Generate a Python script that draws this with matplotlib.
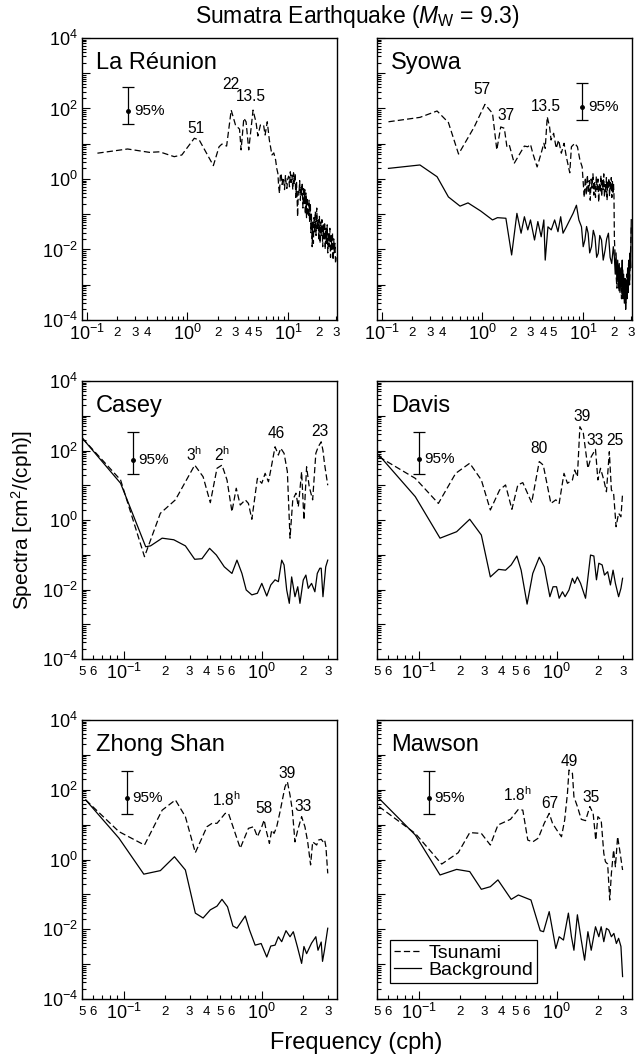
import matplotlib
matplotlib.use("Agg")
import matplotlib.pyplot as plt
from matplotlib.ticker import FixedLocator, FixedFormatter, LogLocator, NullFormatter
from matplotlib.lines import Line2D

plt.rcParams['font.family'] = ['Liberation Sans', 'DejaVu Sans']
plt.rcParams['mathtext.fontset'] = 'custom'
plt.rcParams['mathtext.rm'] = 'Liberation Sans'
plt.rcParams['mathtext.it'] = 'Liberation Sans:italic'

# ---- spectra (frequency in cph, spectra in cm^2/cph) ----
reunion_f = [0.128, 0.255, 0.42, 0.53, 0.74, 0.88, 1.17, 1.31, 1.81, 2.06,
             2.2, 2.45, 2.72, 3.0, 3.29, 3.41, 3.63, 3.82, 4.06, 4.48,
             4.8, 5.0, 5.3, 5.7, 5.9, 6.2, 6.5, 6.9, 7.2, 7.5,
             7.7, 7.9, 8.05, 8.2, 8.35, 8.5, 8.7, 8.85, 9.0, 9.2,
             9.4, 9.55, 9.7, 9.9, 10.1, 10.3, 10.5, 10.7, 10.9, 11.1,
             11.3, 11.5, 11.7, 11.9, 12.1, 12.3, 12.4, 12.6, 12.8, 13.0,
             13.2, 13.4, 13.6, 13.8, 14.0, 14.2, 14.4, 14.6, 14.8, 15.0,
             15.2, 15.4, 15.6, 15.9, 16.1, 16.3, 16.6, 16.8, 17.0, 17.3,
             17.5, 17.8, 18.0, 18.3, 18.6, 18.9, 19.2, 19.5, 19.8, 20.1,
             20.4, 20.7, 21.0, 21.3, 21.6, 22.0, 22.3, 22.6, 23.0, 23.3,
             23.7, 24.0, 24.4, 24.7, 25.1, 25.5, 25.9, 26.3, 26.7, 27.1,
             27.5, 27.9, 28.3, 28.7, 29.1, 29.5, 29.9]
reunion_tsu = [5.4, 7.1, 5.7, 5.9, 4.3, 4.8, 14.3, 12.8, 2.4, 8.2,
               9.8, 8.6, 90, 34, 26, 6.7, 53, 42, 6.7, 90,
               40, 16.6, 34, 34, 17.7, 42, 12.8, 4.8, 5.5, 3.5,
               2.0, 1.45, 0.6, 0.39, 1.2, 1.45, 0.7, 1.1, 0.94, 0.5,
               1.3, 0.7, 0.54, 1.0, 1.2, 0.6, 1.6, 0.8, 1.3, 0.5,
               1.5, 0.7, 1.45, 0.3, 0.8, 0.2, 0.085, 0.45, 0.39, 0.9,
               0.25, 0.6, 0.35, 0.8, 0.15, 0.6, 0.2, 0.5, 0.1, 0.4,
               0.08, 0.3, 0.12, 0.085, 0.25, 0.06, 0.2, 0.03, 0.1, 0.012,
               0.06, 0.015, 0.08, 0.03, 0.12, 0.025, 0.15, 0.04, 0.069, 0.02,
               0.09, 0.015, 0.06, 0.025, 0.07, 0.012, 0.05, 0.02, 0.06, 0.01,
               0.04, 0.015, 0.05, 0.008, 0.03, 0.012, 0.04, 0.006, 0.025, 0.01,
               0.03, 0.005, 0.02, 0.008, 0.015, 0.004, 0.006]

syowa_tsu_f = [0.117, 0.24, 0.355, 0.46, 0.58, 0.83, 1.06, 1.26, 1.39, 1.52,
               1.65, 1.75, 1.85, 2.07, 2.42, 2.61, 2.82, 3.0, 3.16, 3.49,
               3.83, 4.07, 4.2, 4.4, 4.64, 4.8, 5.09, 5.4, 5.7, 6.07,
               6.46, 6.8, 7.36, 7.64, 8.26, 8.77, 9.27, 9.77, 10.0, 10.25,
               10.5, 10.75, 11.0, 11.25, 11.5, 11.75, 12.0, 12.25, 12.5, 12.75,
               13.0, 13.25, 13.5, 13.75, 14.0, 14.25, 14.5, 14.75, 15.0, 15.25,
               15.5, 15.75, 16.0, 16.25, 16.5, 16.75, 17.0, 17.25, 17.5, 17.75,
               18.0, 18.25, 18.5, 18.75, 19.0, 19.25, 19.5, 19.75, 20.0, 20.2,
               20.4, 21.0, 21.6, 22.2, 22.8, 23.4, 24.0, 24.6, 25.2, 25.8,
               26.4, 27.0, 27.6, 28.2, 28.8, 29.4, 30.0]
syowa_tsu = [42, 56, 85, 40, 5.1, 30, 131, 73, 6.7, 30,
             27.5, 8.2, 9.2, 2.8, 6.0, 8.6, 8.2, 9.6, 5.4, 2.2,
             5.4, 10.3, 7.4, 58, 30, 12.8, 19.8, 7.4, 12.8, 5.4,
             10.3, 4.3, 1.5, 8.2, 10.3, 8.2, 3.5, 2.2, 0.8, 0.3,
             1.1, 0.35, 1.3, 0.4, 0.9, 0.25, 1.0, 0.55, 1.4, 0.35,
             0.85, 0.3, 1.2, 0.5, 1.0, 0.22, 0.8, 0.42, 1.25, 0.32,
             0.9, 0.5, 1.4, 0.3, 0.7, 0.42, 1.1, 0.25, 0.85, 0.55,
             1.05, 0.32, 0.8, 0.5, 1.1, 0.3, 0.85, 0.42, 0.7, 0.35,
             0.02, 0.003, 0.0008, 0.004, 0.0006, 0.002, 0.0004, 0.003, 0.0005, 0.0015,
             0.0003, 0.002, 0.0006, 0.004, 0.001, 0.006, 0.05]
syowa_bg_f = [0.117, 0.24, 0.355, 0.46, 0.6, 0.72, 0.96, 1.26, 1.41, 1.71,
              1.95, 2.2, 2.42, 2.61, 2.82, 3.0, 3.29, 3.55, 3.83, 4.07,
              4.2, 4.47, 4.82, 5.21, 5.62, 5.98, 6.31, 6.81, 7.36, 7.94,
              8.57, 9.06, 9.62, 10.0, 10.4, 10.8, 11.2, 11.6, 12.1, 12.6,
              13.1, 13.6, 14.1, 14.6, 15.2, 15.8, 16.5, 17.1, 17.8, 18.5,
              19.2, 19.9, 20.4, 20.8, 21.2, 21.6, 22.0, 22.4, 22.8, 23.2,
              23.6, 24.0, 24.4, 24.8, 25.2, 25.6, 26.0, 26.4, 26.8, 27.2,
              27.6, 28.0, 28.4, 28.8, 29.2, 29.6, 30.0]
syowa_bg = [2.0, 2.5, 1.16, 0.31, 0.17, 0.21, 0.124, 0.069, 0.08, 0.077,
            0.007, 0.106, 0.029, 0.085, 0.036, 0.069, 0.0186, 0.062, 0.023, 0.069,
            0.005, 0.044, 0.036, 0.069, 0.032, 0.085, 0.029, 0.044, 0.069, 0.106,
            0.18, 0.069, 0.044, 0.012, 0.0186, 0.045, 0.029, 0.008, 0.012, 0.035,
            0.023, 0.006, 0.0078, 0.025, 0.0186, 0.005, 0.0097, 0.02, 0.029, 0.006,
            0.004, 0.012, 0.006, 0.002, 0.008, 0.0012, 0.005, 0.0008, 0.004, 0.0006,
            0.003, 0.0009, 0.005, 0.0004, 0.002, 0.0003, 0.0015, 0.0002, 0.001, 0.0004,
            0.003, 0.0006, 0.005, 0.001, 0.008, 0.003, 0.07]

casey_tsu_f = [0.0504, 0.0951, 0.1416, 0.1845, 0.237, 0.327, 0.376, 0.424, 0.474, 0.515,
               0.56, 0.608, 0.653, 0.698, 0.759, 0.8, 0.847, 0.929, 1.0, 1.057, 1.117,
               1.161, 1.247, 1.318, 1.371, 1.449, 1.531, 1.6, 1.675, 1.766, 1.837, 1.941,
               2.018, 2.109, 2.203, 2.333, 2.46, 2.56, 2.69, 2.77, 2.84, 3.0]
casey_tsu = [224, 14.2, 0.088, 1.56, 3.8, 38, 17.6, 3.15, 30.8, 38,
             14.2, 1.73, 8.2, 2.7, 3.8, 3.0, 1.05, 15.8, 11.4, 22, 12.6,
             27.5, 128, 74, 116, 83, 24.5, 0.30, 3.8, 5.9, 2.4, 24.5,
             1.0, 34, 9.1, 3.8, 83, 128, 178, 100, 43, 10]
casey_bg_f = [0.0504, 0.0951, 0.1445, 0.1566, 0.19, 0.2307, 0.28, 0.327, 0.369, 0.419,
              0.469, 0.535, 0.608, 0.661, 0.718, 0.771, 0.847, 0.929, 1.0, 1.086, 1.161,
              1.247, 1.318, 1.393, 1.449, 1.514, 1.581, 1.644, 1.738, 1.82, 1.888, 1.995,
              2.084, 2.168, 2.291, 2.421, 2.52, 2.63, 2.69, 2.77, 2.9, 3.0]
casey_bg = [224, 11.4, 0.17, 0.18, 0.30, 0.27, 0.18, 0.074, 0.077, 0.153,
            0.098, 0.045, 0.029, 0.07, 0.029, 0.0097, 0.007, 0.0078, 0.015, 0.0065, 0.0135,
            0.019, 0.0168, 0.07, 0.051, 0.0097, 0.004, 0.023, 0.0062, 0.012, 0.004, 0.0187,
            0.026, 0.0108, 0.015, 0.0086, 0.029, 0.041, 0.041, 0.0062, 0.045, 0.07]

davis_tsu_f = [0.0516, 0.0946, 0.139, 0.1854, 0.2344, 0.2844, 0.3304, 0.3855, 0.4256,
               0.4732, 0.5224, 0.5675, 0.6577, 0.7464, 0.798, 0.906, 0.984, 1.04, 1.127,
               1.194, 1.297, 1.346, 1.409, 1.469, 1.556, 1.679, 1.774, 1.905, 1.982, 2.07,
               2.188, 2.286, 2.399, 2.483, 2.576, 2.685, 2.8, 2.911, 2.992]
davis_tsu = [66, 15.8, 3.0, 22, 43, 14.2, 1.94, 7.3, 10.2,
             2.03, 10.2, 11.9, 3.15, 48, 38, 3.0, 3.8, 3.0, 22,
             11.4, 14.2, 27.5, 17.6, 484, 313, 30.8, 66, 108, 14.2, 30.8,
             14.2, 6.5, 92, 7.3, 5.9, 0.64, 1.56, 1.24, 5.9]
davis_bg_f = [0.0516, 0.0946, 0.1429, 0.1884, 0.2344, 0.2844, 0.3304, 0.3793, 0.4256,
              0.4677, 0.514, 0.552, 0.6095, 0.6699, 0.7464, 0.811, 0.891, 0.9397, 0.9954,
              1.04, 1.099, 1.148, 1.225, 1.297, 1.346, 1.409, 1.486, 1.614, 1.754, 1.854,
              1.936, 2.014, 2.128, 2.213, 2.333, 2.443, 2.553, 2.655, 2.8, 2.911, 2.992]
davis_bg = [74, 4.7, 0.30, 0.46, 1.05, 0.37, 0.023, 0.038, 0.036,
            0.051, 0.092, 0.036, 0.0038, 0.029, 0.085, 0.045, 0.0062, 0.012, 0.012,
            0.0056, 0.0086, 0.0062, 0.0097, 0.021, 0.015, 0.023, 0.015, 0.0056, 0.098, 0.092,
            0.019, 0.057, 0.051, 0.026, 0.0325, 0.0135, 0.036, 0.015, 0.0062, 0.0108, 0.021]

zhong_tsu_f = [0.0532, 0.0925, 0.1416, 0.1901, 0.2371, 0.2799, 0.3304, 0.4009, 0.4365,
               0.4742, 0.5433, 0.5741, 0.6982, 0.7998, 0.871, 0.929, 1.0, 1.04, 1.074,
               1.135, 1.18, 1.227, 1.282, 1.355, 1.472, 1.531, 1.6, 1.663, 1.738, 1.82,
               1.941, 2.051, 2.148, 2.254, 2.333, 2.495, 2.57, 2.69, 2.78, 2.85, 2.91, 3.0]
zhong_tsu = [51, 6.3, 2.6, 26, 51, 16.9, 1.57, 8.7, 10.9,
             10.9, 21, 21, 2.1, 7.8, 8.7, 4.5, 8.7, 13.6, 7.0,
             2.9, 7.0, 5.6, 8.7, 23.5, 122, 170, 70, 26, 3.2, 7.0,
             16.9, 8.7, 3.2, 0.7, 3.2, 2.6, 3.6, 3.8, 3.2, 3.6, 2.3, 0.4]
zhong_bg_f = [0.0532, 0.0925, 0.14, 0.1845, 0.2333, 0.2799, 0.3304, 0.376, 0.424, 0.474,
              0.515, 0.5649, 0.618, 0.661, 0.759, 0.815, 0.895, 0.989, 1.086, 1.161,
              1.247, 1.318, 1.393, 1.496, 1.6, 1.69, 1.807, 1.941, 2.018, 2.109, 2.291,
              2.46, 2.55, 2.69, 2.75, 2.84, 3.0]
zhong_bg = [51, 4.1, 0.38, 0.48, 1.2, 0.5, 0.029, 0.021, 0.036, 0.046,
            0.072, 0.044, 0.0124, 0.0107, 0.024, 0.0095, 0.0035, 0.0039, 0.0016, 0.0033,
            0.0035, 0.0061, 0.0044, 0.0091, 0.0061, 0.0085, 0.0032, 0.00105, 0.0032, 0.002, 0.004,
            0.0061, 0.0025, 0.0043, 0.0012, 0.0025, 0.0107]

mawson_tsu_f = [0.0516, 0.0946, 0.1469, 0.1936, 0.2344, 0.2844, 0.3304, 0.375, 0.4624,
                0.5272, 0.5675, 0.6166, 0.6699, 0.7345, 0.811, 0.881, 0.931, 1.0, 1.081,
                1.14, 1.194, 1.225, 1.297, 1.33, 1.409, 1.503, 1.614, 1.734, 1.832, 1.914,
                1.982, 2.094, 2.188, 2.249, 2.333, 2.415, 2.483, 2.576, 2.655, 2.754, 2.851, 2.992]
mawson_tsu = [33, 5.6, 0.74, 1.57, 5.9, 5.6, 2.6, 9.75, 14.2,
              27.5, 26, 3.6, 3.2, 4.1, 10.9, 21, 10.9, 7.0, 4.5,
              13.6, 79, 368, 296, 63, 33, 14.2, 13.0, 33, 21, 3.6,
              16.9, 13.6, 1.5, 0.86, 0.74, 0.069, 0.40, 1.87, 0.62, 4.5, 1.87, 0.5]
mawson_bg_f = [0.0516, 0.0946, 0.1429, 0.1884, 0.2344, 0.2844, 0.3304, 0.375, 0.4677,
               0.5272, 0.6501, 0.7586, 0.8017, 0.881, 0.984, 1.04, 1.117, 1.213, 1.276,
               1.33, 1.409, 1.503, 1.589, 1.679, 1.774, 1.905, 2.014, 2.094, 2.188, 2.286,
               2.377, 2.483, 2.588, 2.698, 2.8, 2.911, 2.992]
mawson_bg = [57, 5.05, 0.36, 0.52, 0.45, 0.14, 0.166, 0.26, 0.072,
             0.096, 0.069, 0.0091, 0.0085, 0.032, 0.0028, 0.0061, 0.0049, 0.029, 0.0061,
             0.0025, 0.026, 0.0049, 0.0013, 0.0085, 0.0025, 0.0118, 0.0061, 0.0118, 0.0044, 0.0106,
             0.0095, 0.0061, 0.0076, 0.0039, 0.0055, 0.0032, 0.00044]

stations = ['La Réunion', 'Syowa', 'Casey', 'Davis', 'Zhong Shan', 'Mawson']

# 95% confidence bar: frequency, lower, centre, upper
conf_f = [0.26, 9.8, 0.117, 0.1, 0.105, 0.118]
conf_lo = [36, 47, 20.7, 20.5, 20.2, 20.2]
conf_mid = [85, 107, 53, 56, 57, 57]
conf_hi = [400, 537, 334, 334, 345, 345]

# peak period labels (minutes, or hours where marked)
peak_text = [
    ['51', '22', '13.5'],
    ['57', '37', '13.5'],
    ['3$^{\\mathrm{h}}$', '2$^{\\mathrm{h}}$', '46', '23'],
    ['80', '39', '33', '25'],
    ['1.8$^{\\mathrm{h}}$', '58', '39', '33'],
    ['1.8$^{\\mathrm{h}}$', '67', '49', '35'],
]
peak_f = [
    [1.21, 2.72, 4.26],
    [1.0, 1.71, 4.3],
    [0.321, 0.515, 1.28, 2.63],
    [0.739, 1.53, 1.905, 2.65],
    [0.56, 1.03, 1.53, 2.0],
    [0.52, 0.895, 1.23, 1.77],
]
peak_s = [
    [27, 465, 212],
    [335, 65, 112],
    [74, 74, 313, 348],
    [116, 940, 200, 200],
    [51, 29, 296, 33],
    [71, 41, 637, 61],
]

tsunami = [(reunion_f, reunion_tsu), (syowa_tsu_f, syowa_tsu), (casey_tsu_f, casey_tsu),
           (davis_tsu_f, davis_tsu), (zhong_tsu_f, zhong_tsu), (mawson_tsu_f, mawson_tsu)]
background = [None, (syowa_bg_f, syowa_bg), (casey_bg_f, casey_bg),
              (davis_bg_f, davis_bg), (zhong_bg_f, zhong_bg), (mawson_bg_f, mawson_bg)]

W, H = 635, 1059
fig = plt.figure(figsize=(W / 100, H / 100), dpi=100)

cols = [82, 377]
rows = [(38, 320), (381, 659), (720, 999)]
axes = []
for r, (top, bot) in enumerate(rows):
    for c, left in enumerate(cols):
        ax = fig.add_axes([left / W, 1 - bot / H, 255 / W, (bot - top) / H])
        axes.append(ax)

DASH = (5, 2.5)

for i, ax in enumerate(axes):
    wide = i < 2
    ax.set_xscale('log')
    ax.set_yscale('log')
    ax.set_ylim(1e-4, 1e4)

    f, s = tsunami[i]
    ax.plot(f, s, color='k', lw=0.9, dashes=DASH)
    if background[i] is not None:
        fb, sb = background[i]
        ax.plot(fb, sb, color='k', lw=0.9)

    # frequency axis
    if wide:
        ax.set_xlim(0.09, 30.5)
        major = [0.1, 1, 10]
        major_lab = ['$10^{-1}$', '$10^{0}$', '$10^{1}$']
        minor = [0.2, 0.3, 0.4, 0.5, 0.6, 0.7, 0.8, 0.9,
                 2, 3, 4, 5, 6, 7, 8, 9, 20, 30]
        minor_lab = ['2', '3', '4', '', '', '', '', '',
                     '2', '3', '4', '5', '', '', '', '', '2', '3']
    else:
        ax.set_xlim(0.05, 3.5)
        major = [0.1, 1]
        major_lab = ['$10^{-1}$', '$10^{0}$']
        minor = [0.05, 0.06, 0.07, 0.08, 0.09, 0.2, 0.3, 0.4, 0.5, 0.6, 0.7, 0.8, 0.9, 2, 3]
        minor_lab = ['5', '6', '', '', '', '2', '3', '4', '5', '6', '', '', '', '2', '3']
    ax.xaxis.set_major_locator(FixedLocator(major))
    ax.xaxis.set_major_formatter(FixedFormatter(major_lab))
    ax.xaxis.set_minor_locator(FixedLocator(minor))
    ax.xaxis.set_minor_formatter(FixedFormatter(minor_lab))

    # spectra axis
    ax.yaxis.set_major_locator(FixedLocator([10.0 ** k for k in range(-4, 5)]))
    if i % 2 == 0:
        ylab = ['$10^{%d}$' % k if k % 2 == 0 else '' for k in range(-4, 5)]
        ax.yaxis.set_major_formatter(FixedFormatter(ylab))
    else:
        ax.yaxis.set_major_formatter(NullFormatter())
    ax.yaxis.set_minor_locator(LogLocator(base=10, subs=range(2, 10), numticks=20))
    ax.yaxis.set_minor_formatter(NullFormatter())

    ax.tick_params(which='both', direction='in', top=False, right=False, width=0.8)
    ax.tick_params(which='major', length=6, labelsize=13, pad=3)
    ax.tick_params(which='minor', length=3)
    ax.tick_params(axis='x', which='minor', labelsize=9.5, pad=5)
    for sp in ax.spines.values():
        sp.set_linewidth(1.0)

    ax.text(0.055, 0.91, stations[i], transform=ax.transAxes, fontsize=17,
            ha='left', va='center')

    ax.errorbar([conf_f[i]], [conf_mid[i]],
                yerr=[[conf_mid[i] - conf_lo[i]], [conf_hi[i] - conf_mid[i]]],
                fmt='o', color='k', ms=2.5, capsize=4, elinewidth=0.9, capthick=0.9)
    ax.annotate('95%', (conf_f[i], conf_mid[i]), xytext=(4, 0), textcoords='offset points',
                ha='left', va='center', fontsize=11)

    for t, pf, ps in zip(peak_text[i], peak_f[i], peak_s[i]):
        ax.text(pf, ps, t, ha='center', va='center', fontsize=11.2)

axes[5].legend([Line2D([], [], color='k', lw=0.9, dashes=DASH),
                Line2D([], [], color='k', lw=0.9)],
               ['Tsunami', 'Background'], loc='lower left', bbox_to_anchor=(0.05, 0.057),
               borderaxespad=0, fancybox=False, edgecolor='k', framealpha=1,
               fontsize=14, handlelength=1.4, handletextpad=0.4, borderpad=0.2,
               labelspacing=0.0)
axes[5].get_legend().get_frame().set_linewidth(0.9)

fig.text(357 / W, 1 - 17 / H, 'Sumatra Earthquake ($M_{\\mathrm{W}}$ = 9.3)',
         ha='center', va='center', fontsize=16.5)
fig.text(22 / W, 1 - 520 / H, 'Spectra [cm$^2$/(cph)]', rotation=90,
         ha='center', va='center', fontsize=15)
fig.text(356 / W, 1 - 1043 / H, 'Frequency (cph)', ha='center', va='center', fontsize=17)

fig.savefig('out.png', dpi=100)
